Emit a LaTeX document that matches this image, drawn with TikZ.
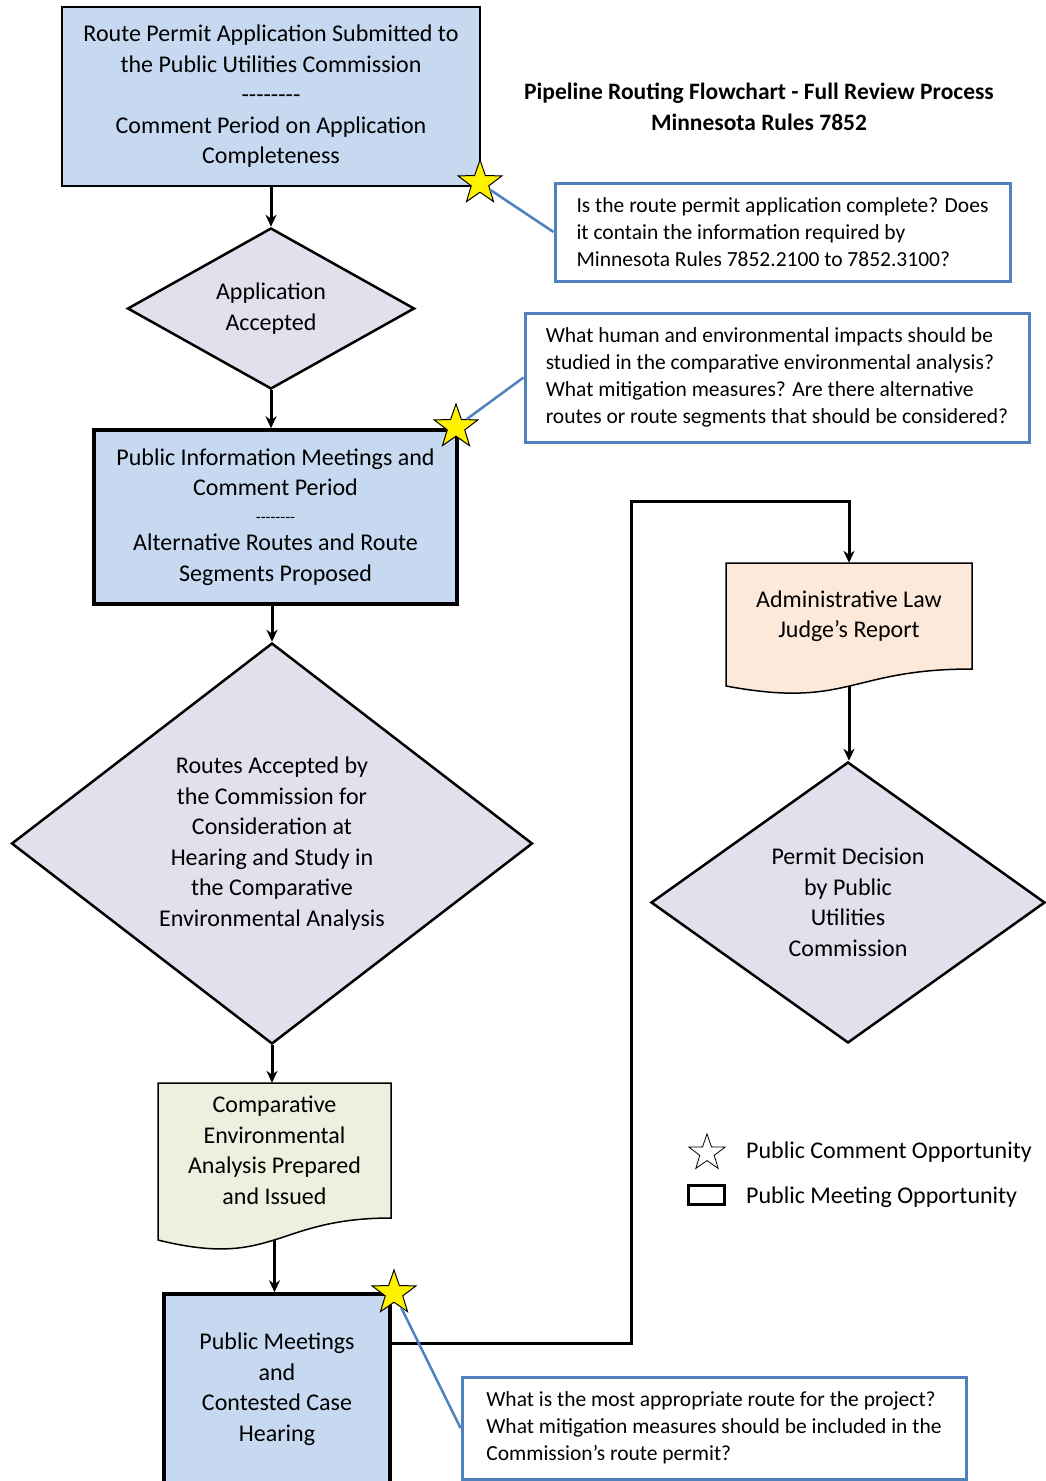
\documentclass[tikz,border=0pt]{standalone}
\usepackage{fontspec}
\setmainfont{Carlito}
\usetikzlibrary{shapes.geometric,arrows.meta}

\definecolor{boxblue}{RGB}{198,217,241}
\definecolor{lavender}{RGB}{228,223,236}
\definecolor{docgreen}{RGB}{235,241,222}
\definecolor{docpeach}{RGB}{253,233,217}
\definecolor{callblue}{RGB}{79,129,189}

\newcommand{\bodyfont}{\fontsize{24}{30.5}\selectfont}
\newcommand{\callfont}{\fontsize{21.5}{27}\selectfont}
\newcommand{\titlefont}{\fontsize{23.5}{31}\selectfont\bfseries}
\newcommand{\dashes}{-{}-{}-{}-{}-{}-{}-{}-}

\tikzset{
  stepbox/.style={draw, fill=boxblue, align=center, inner sep=0pt, font=\bodyfont},
  decision/.style={diamond, draw, fill=lavender, line width=2.5pt, align=center, inner sep=0pt, font=\bodyfont},
  doctext/.style={align=center, inner sep=0pt, font=\bodyfont},
  callout/.style={draw=callblue, line width=3pt, align=left, inner sep=0pt, font=\callfont},
  commentstar/.style={star, star points=5, star point ratio=2.5, draw, fill=yellow, line width=1pt, minimum size=46pt, inner sep=0pt},
  flow/.style={->, line width=3pt},
  lead/.style={draw=callblue, line width=2.5pt},
}

\begin{document}
\begin{tikzpicture}[x=1pt, y=-1pt, >={Stealth[length=12pt,width=11pt]}]
        \useasboundingbox (0,0) rectangle (1045,1481);
        % title
        \node[font=\titlefont, align=center] (title) at (759,107)
        {Pipeline Routing Flowchart - Full Review Process\\Minnesota Rules 7852};
        % left column
        \node[stepbox, line width=2pt, minimum width=418pt, minimum height=179pt] (submit) at (271,96.5)
        {Route Permit Application Submitted to\\the Public Utilities Commission\\\dashes\\Comment Period on Application\\Completeness};
        \node[decision, minimum width=287pt, minimum height=161pt] (accepted) at (271,308.5)
        {Application\\Accepted};
        \node[stepbox, line width=3.5pt, minimum width=363pt, minimum height=174pt] (infomeet) at (275.5,517)
        {Public Information Meetings and\\Comment Period\\[-4pt]{\fontsize{16}{16}\selectfont\dashes}\\[-2pt]Alternative Routes and Route\\Segments Proposed};
        \node[decision, minimum width=521pt, minimum height=401pt] (routes) at (272,843.5)
        {Routes Accepted by\\the Commission for\\Consideration at\\Hearing and Study in\\the Comparative\\Environmental Analysis};
        % document shape behind its text
        \draw[line width=1.5pt, fill=docgreen] (158,1083) -- (391,1083) -- (391,1218)
        .. controls (274.5,1218) and (274.5,1269) .. (158,1240) -- cycle;
        \node[doctext, minimum width=233pt, minimum height=135pt] (compare) at (274.5,1150.5)
        {Comparative\\Environmental\\Analysis Prepared\\and Issued};
        \coordinate (comparebot) at (274.5,1240);
        \node[stepbox, line width=3.5pt, minimum width=226pt, minimum height=190pt] (hearing) at (277,1389)
        {Public Meetings\\and\\Contested Case\\Hearing};
        % right column
        \draw[line width=1.5pt, fill=docpeach] (726,563) -- (972,563) -- (972,669)
        .. controls (849,669) and (849,709) .. (726,686) -- cycle;
        \node[doctext, minimum width=246pt, minimum height=106pt] (aljreport) at (849,616)
        {Administrative Law\\Judge’s Report};
        \coordinate (aljbot) at (849,686);
        \node[decision, minimum width=394pt, minimum height=281pt] (decision) at (848,902.5)
        {Permit Decision\\by Public\\Utilities\\Commission};
        \coordinate (bend) at (631,501);
        % flow
        \draw[flow] (submit.south) -- (submit.south |- accepted.north);
        \draw[flow] (accepted.south) -- (accepted.south |- infomeet.north);
        \draw[flow] (routes.north |- infomeet.south) -- (routes.north);
        \draw[flow] (routes.south) -- (routes.south |- compare.north);
        \draw[flow] (comparebot) -- (comparebot |- hearing.north);
        \draw[flow] (hearing.east |- 0,1343) -| (bend) -| (aljreport.north);
        \draw[flow] (aljbot) -- (aljbot |- decision.north);
        % callouts
        \node[callout, minimum width=455pt, minimum height=98pt] (askcomplete) at (782.5,232)
        {Is the route permit application complete? Does\\it contain the information required by\\Minnesota Rules 7852.2100 to 7852.3100?};
        \node[callout, minimum width=504pt, minimum height=129pt] (askimpacts) at (777,377.5)
        {What human and environmental impacts should be\\studied in the comparative environmental analysis?\\What mitigation measures? Are there alternative\\routes or route segments that should be considered?};
        \node[callout, minimum width=504pt, minimum height=102pt] (askroute) at (714,1428)
        {What is the most appropriate route for the project?\\What mitigation measures should be included in the\\Commission’s route permit?};
        \node[commentstar] (star1) at (480,183) {};
        \node[commentstar] (star2) at (456,427) {};
        \node[commentstar] (star3) at (394,1293) {};
        \draw[lead] (star1) -- (askcomplete.west);
        \draw[lead] (star2) -- (askimpacts.west);
        \draw[lead] (star3) -- (askroute.west);
        % legend
        \node[commentstar, fill=none, line width=0.8pt, minimum size=38pt] (legstar) at (707,1153) {};
        \node[anchor=west, inner sep=0pt, font=\bodyfont] (legcomment) at (746,1152) {Public Comment Opportunity};
        \node[draw, line width=3pt, minimum width=36pt, minimum height=19pt, inner sep=0pt] (legbox) at (706,1195) {};
        \node[anchor=west, inner sep=0pt, font=\bodyfont] (legmeeting) at (746,1197) {Public Meeting Opportunity};
\end{tikzpicture}
\end{document}
